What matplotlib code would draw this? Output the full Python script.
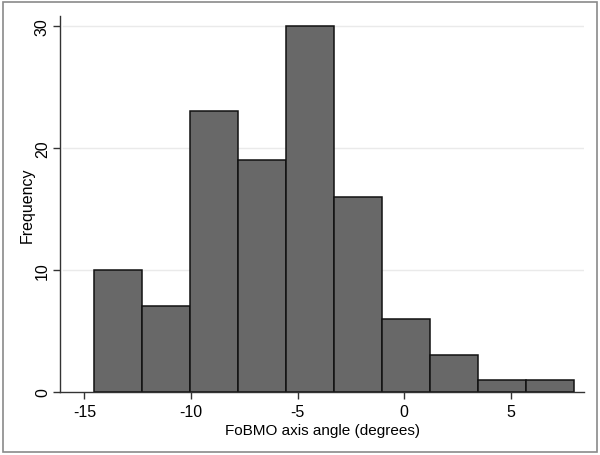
import numpy as np
import matplotlib
matplotlib.use("Agg")
import matplotlib.pyplot as plt
from matplotlib.patches import Rectangle

plt.rcParams['font.family'] = ['Liberation Sans', 'DejaVu Sans']
plt.rcParams['axes.unicode_minus'] = False

# histogram of FoBMO axis angle
bin_start = -14.53
bin_width = 2.25
counts = [10, 7, 23, 19, 30, 16, 6, 3, 1, 1]
x_ticks = [-15, -10, -5, 0, 5]
y_ticks = [0, 10, 20, 30]

edges = bin_start + bin_width * np.arange(len(counts))

fig = plt.figure(figsize=(6, 4.56), dpi=100)
ax = fig.add_axes([0.1005, 0.1388, 0.8728, 0.8232])

# light gridlines, not at zero
for yv in y_ticks[1:]:
    ax.axhline(yv, xmin=0.005, color='#eaeaea', lw=1.0, zorder=0)

ax.bar(edges, counts, width=bin_width, align='edge',
       color='#686868', edgecolor='#111111', linewidth=1.1, zorder=2)

ax.set_xlim(-16.13, 8.44)
ax.set_ylim(0, 30.77)
ax.set_xticks(x_ticks)
ax.set_yticks(y_ticks)
ax.set_yticklabels([str(v) for v in y_ticks], rotation=90, va='center')

for side in ['top', 'right']:
    ax.spines[side].set_visible(False)
for side in ['left', 'bottom']:
    ax.spines[side].set_color('#333333')
    ax.spines[side].set_linewidth(1.0)

ax.tick_params(axis='both', labelsize=11.5, color='#333333', length=5, width=1.0)
ax.tick_params(axis='x', pad=4)
ax.tick_params(axis='y', pad=2.5)
ax.set_xlabel('FoBMO axis angle (degrees)', fontsize=11, labelpad=3)
ax.set_ylabel('Frequency', fontsize=11.5, labelpad=0)

# outer frame of the graph region
fig.patches.append(Rectangle((0.005, 0.006), 0.99, 0.988, transform=fig.transFigure,
                             fill=False, edgecolor='#8a8a8a', lw=1.2))

fig.savefig('out.png', dpi=100)
